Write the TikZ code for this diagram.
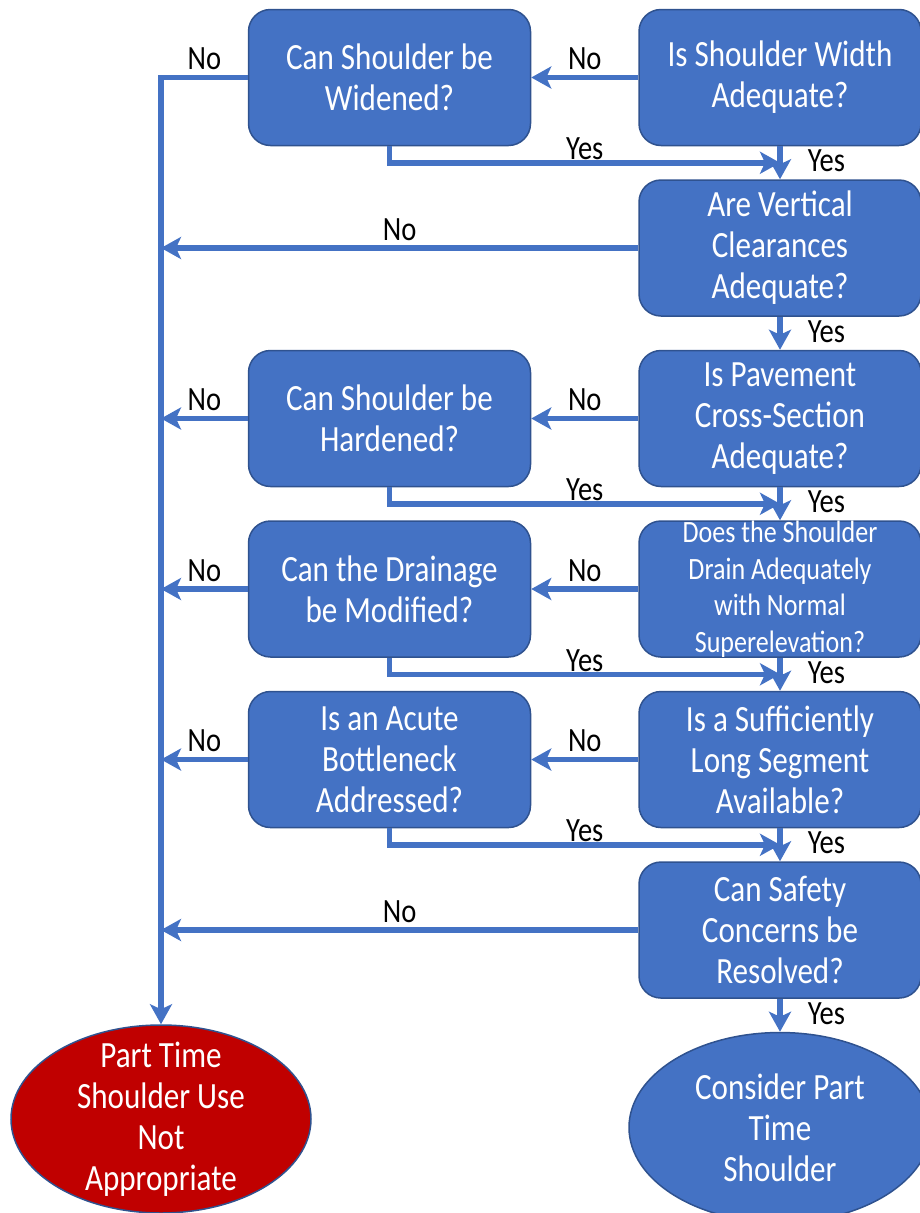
\documentclass[tikz,border=0pt]{standalone}
\usepackage{fontspec}
\setmainfont{Carlito}[FakeStretch=0.84]
\usetikzlibrary{arrows.meta,positioning,shapes.geometric}
\definecolor{boxblue}{HTML}{4472C4}
\definecolor{edgeblue}{HTML}{2F528F}
\definecolor{stopred}{HTML}{C00000}
\tikzset{
 qbox/.style={draw=edgeblue,line width=1.5pt,fill=boxblue,rounded corners=22pt,
   minimum width=282pt,minimum height=136pt,align=center,
   text=white,inner sep=0pt,font=\fontsize{37}{41}\selectfont},
 endbox/.style={ellipse,draw=edgeblue,line width=1.5pt,fill=boxblue,
   minimum width=302pt,minimum height=190pt,inner sep=0pt},
 endtext/.style={align=center,text=white,inner sep=0pt,font=\fontsize{37}{41}\selectfont},
 flow/.style={draw=boxblue,line width=5.5pt,-{Stealth[length=20pt,width=22pt,inset=5pt]}},
 lab/.style={font=\fontsize{34}{37}\selectfont,text=black,inner sep=0pt}
}
\begin{document}
\begin{tikzpicture}[x=1pt,y=-1pt]
\useasboundingbox (0,0) rectangle (920,1213);
% right column
\node[qbox] (ws) at (780,77.5) {Is Shoulder Width\\Adequate?};
\node[qbox,below=33pt of ws] (vc) {Are Vertical\\Clearances\\Adequate?};
\node[qbox,below=33pt of vc] (pc) {Is Pavement\\Cross-Section\\Adequate?};
\node[qbox,below=33pt of pc,font=\fontsize{31}{36.5}\selectfont] (dr) {Does the Shoulder\\Drain Adequately\\with Normal\\Superelevation?};
\node[qbox,below=33pt of dr] (sl) {Is a Sufficiently\\Long Segment\\Available?};
\node[qbox,below=33pt of sl] (sc) {Can Safety\\Concerns be\\Resolved?};
\node[endbox,below=33pt of sc,label={[endtext]center:Consider Part\\Time\\Shoulder}] (go) {};
% left column
\node[qbox,left=107pt of ws] (wd) {Can Shoulder be\\Widened?};
\node[qbox,left=107pt of pc] (hd) {Can Shoulder be\\Hardened?};
\node[qbox,left=107pt of dr] (dm) {Can the Drainage\\be Modified?};
\node[qbox,left=107pt of sl] (ab) {Is an Acute\\Bottleneck\\Addressed?};
\node[endbox,fill=stopred,minimum width=300pt,minimum height=188pt,
  label={[endtext]center:Part Time\\Shoulder Use\\Not\\Appropriate}] (nogo) at (161,1119) {};
% no branches
\draw[flow] (ws.west) -- node[lab,above=5pt]{No} (wd.east);
\draw[flow] (pc.west) -- node[lab,above=5pt]{No} (hd.east);
\draw[flow] (dr.west) -- node[lab,above=5pt]{No} (dm.east);
\draw[flow] (sl.west) -- node[lab,above=5pt]{No} (ab.east);
\draw[flow] (wd.west) -| node[lab,above=5pt,pos=0.25]{No} (nogo.north);
\draw[flow] (vc.west) -- node[lab,above=5pt]{No} (vc.west -| nogo.north);
\draw[flow] (hd.west) -- node[lab,above=5pt]{No} (hd.west -| nogo.north);
\draw[flow] (dm.west) -- node[lab,above=5pt]{No} (dm.west -| nogo.north);
\draw[flow] (ab.west) -- node[lab,above=5pt]{No} (ab.west -| nogo.north);
\draw[flow] (sc.west) -- node[lab,above=5pt]{No} (sc.west -| nogo.north);
% yes branches
\draw[flow] (ws.south) -- node[lab,right=25pt,yshift=2pt]{Yes} (vc.north);
\draw[flow] (vc.south) -- node[lab,right=25pt,yshift=2pt]{Yes} (pc.north);
\draw[flow] (pc.south) -- node[lab,right=25pt,yshift=2pt]{Yes} (dr.north);
\draw[flow] (dr.south) -- node[lab,right=25pt,yshift=2pt]{Yes} (sl.north);
\draw[flow] (sl.south) -- node[lab,right=25pt,yshift=2pt]{Yes} (sc.north);
\draw[flow] (sc.south) -- node[lab,right=25pt,yshift=2pt]{Yes} (go.north);
\draw[flow] (wd.south) |- node[lab,above=0pt,pos=0.75]{Yes} ([yshift=-16.5pt]ws.south);
\draw[flow] (hd.south) |- node[lab,above=0pt,pos=0.75]{Yes} ([yshift=-16.5pt]pc.south);
\draw[flow] (dm.south) |- node[lab,above=0pt,pos=0.75]{Yes} ([yshift=-16.5pt]dr.south);
\draw[flow] (ab.south) |- node[lab,above=0pt,pos=0.75]{Yes} ([yshift=-16.5pt]sl.south);
\end{tikzpicture}
\end{document}
